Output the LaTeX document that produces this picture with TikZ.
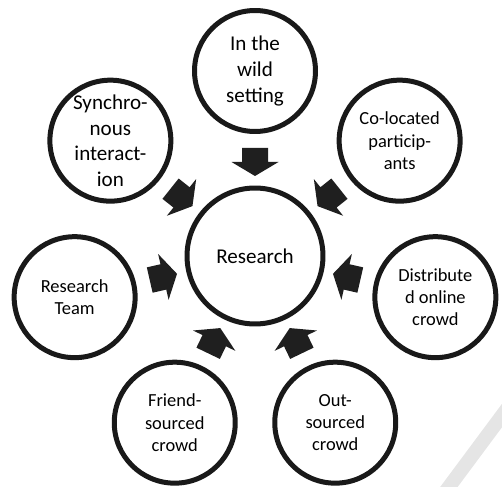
\documentclass[tikz,border=0pt]{standalone}
\usepackage{fontspec}
\setmainfont{Carlito}
\usetikzlibrary{positioning}
\pgfdeclarelayer{nodelayer}
\pgfdeclarelayer{edgelayer}
\pgfsetlayers{edgelayer,nodelayer,main}
\tikzstyle{ring}=[shape=circle, draw=black!90, line width=0.1cm, fill=white, align=center, inner sep=0pt, font=\fontsize{12}{14.6}\selectfont]
\tikzstyle{outer}=[ring, minimum size=2.42cm]
\tikzstyle{small}=[outer, font=\fontsize{10.5}{12.6}\selectfont]
\tikzstyle{hub}=[ring, minimum size=2.72cm]
\tikzstyle{wedge}=[fill=black!88]
\tikzstyle{smear}=[draw=black!10, line width=0.28cm]

\begin{document}
\begin{tikzpicture}[x=0.02cm, y=0.02cm]
	\useasboundingbox (-255,-230) rectangle (247,256);
	\draw [style=smear] (179,-251) -- (263,-138);
	\begin{pgfonlayer}{nodelayer}
		\node [style=hub] (0) at (0,0) {Research};
		\node [style=outer] (1) at (90:185) {In the\\wild\\setting};
		\node [style=small] (2) at (38.57:185) {Co-located\\particip-\\ants};
		\node [style=small] (3) at (-12.86:185) {Distribute\\d online\\crowd};
		\node [style=small] (4) at (-64.29:185) {Out-\\sourced\\crowd};
		\node [style=small] (5) at (-115.71:185) {Friend-\\sourced\\crowd};
		\node [style=small] (6) at (-167.14:185) {Research\\Team};
		\node [style=outer] (7) at (141.43:185) {Synchro-\\nous\\interact-\\ion};
	\end{pgfonlayer}
	\begin{pgfonlayer}{edgelayer}
		\fill [style=wedge, rotate=90] (108,13) -- (94,13) -- (94,23.5) -- (80,0) -- (94,-23.5) -- (94,-13) -- (108,-13) -- cycle;
		\fill [style=wedge, rotate=38.57] (108,13) -- (94,13) -- (94,23.5) -- (80,0) -- (94,-23.5) -- (94,-13) -- (108,-13) -- cycle;
		\fill [style=wedge, rotate=-12.86] (108,13) -- (94,13) -- (94,23.5) -- (80,0) -- (94,-23.5) -- (94,-13) -- (108,-13) -- cycle;
		\fill [style=wedge, rotate=-64.29] (108,13) -- (94,13) -- (94,23.5) -- (80,0) -- (94,-23.5) -- (94,-13) -- (108,-13) -- cycle;
		\fill [style=wedge, rotate=-115.71] (108,13) -- (94,13) -- (94,23.5) -- (80,0) -- (94,-23.5) -- (94,-13) -- (108,-13) -- cycle;
		\fill [style=wedge, rotate=-167.14] (108,13) -- (94,13) -- (94,23.5) -- (80,0) -- (94,-23.5) -- (94,-13) -- (108,-13) -- cycle;
		\fill [style=wedge, rotate=141.43] (108,13) -- (94,13) -- (94,23.5) -- (80,0) -- (94,-23.5) -- (94,-13) -- (108,-13) -- cycle;
	\end{pgfonlayer}
\end{tikzpicture}
\end{document}
